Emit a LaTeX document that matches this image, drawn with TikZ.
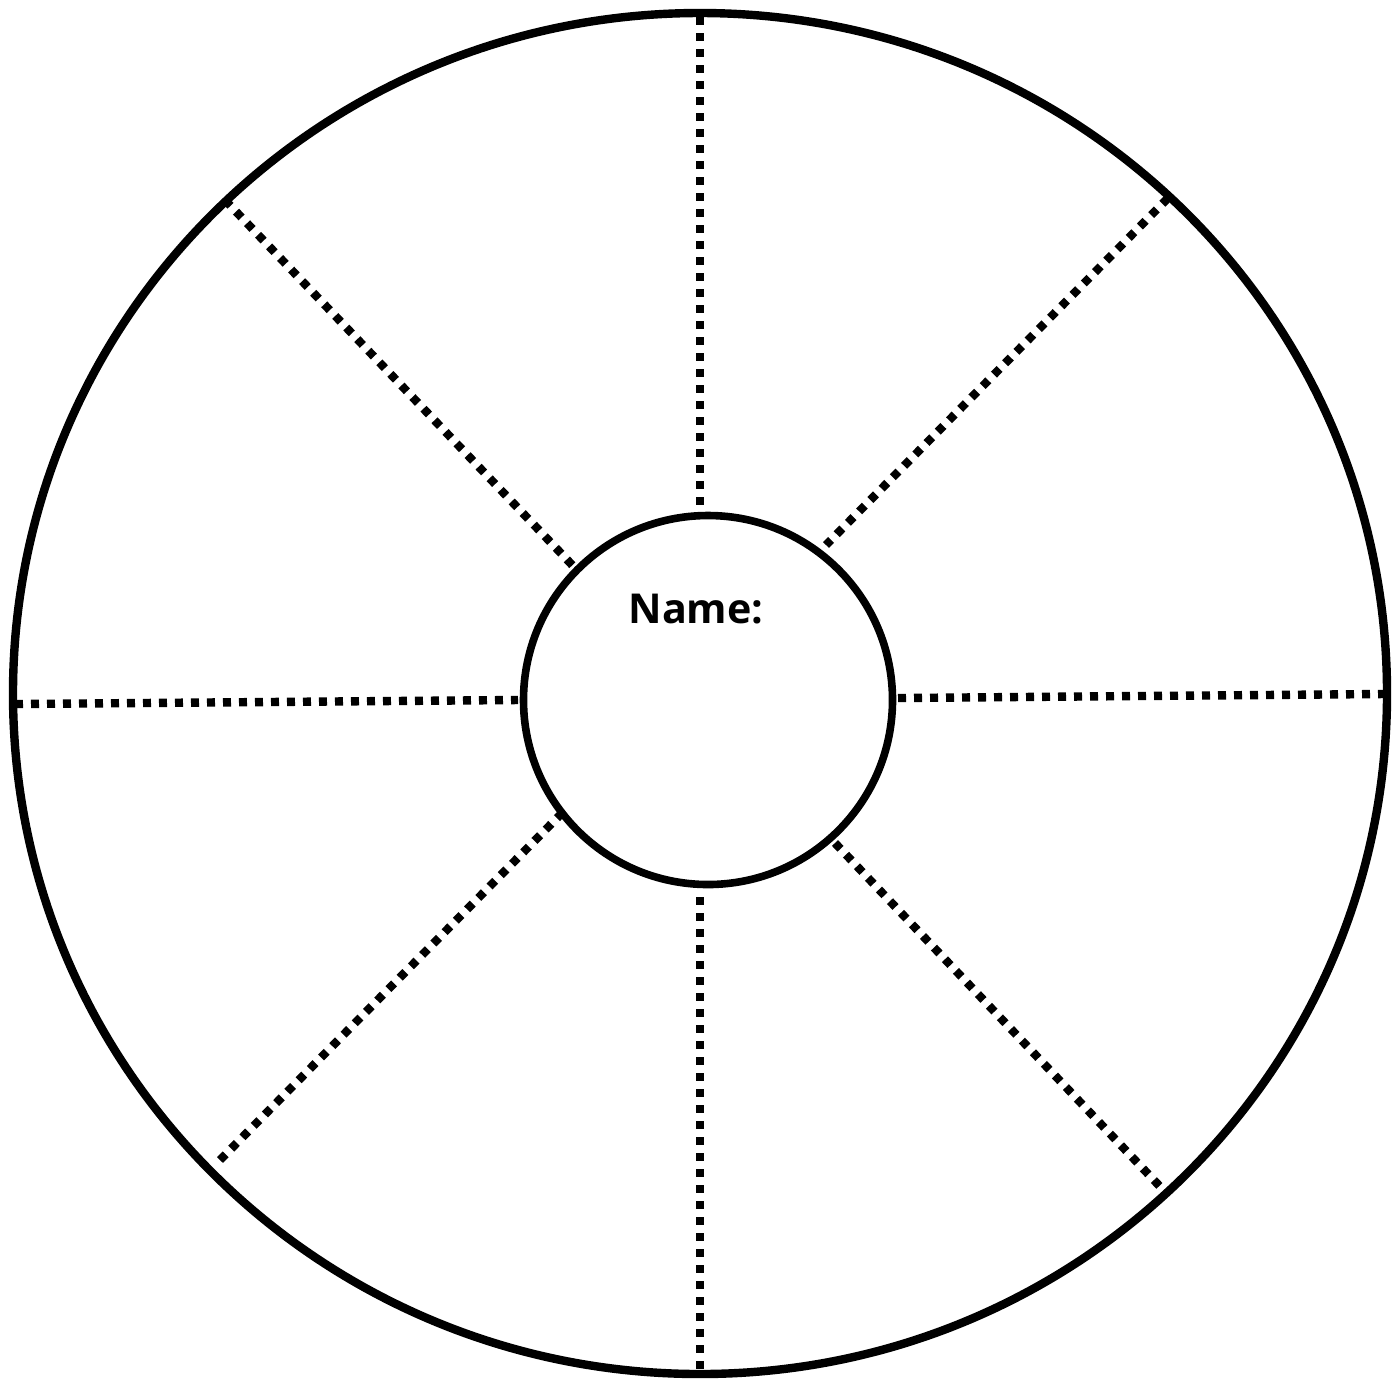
\documentclass[tikz,border=0pt]{standalone}
\usepackage{fontspec}
\setmainfont{Open Sans}
\usepackage{tikz}
\usetikzlibrary{
    positioning,
    calc
}

\begin{document}
\begin{tikzpicture}[
    x=0.5pt,
    y=-0.5pt,
    rim/.style={
        draw=black,
        line width=4.2pt
    },
    hub/.style={
        circle,
        draw=black,
        line width=3.8pt,
        minimum size=184.5pt,
        inner sep=0pt
    },
    spoke/.style={
        draw=black,
        line width=4.2pt,
        dash pattern=on 4pt off 4pt
    }
]

\useasboundingbox (0,0) rectangle (1400,1378);

% ============================================================
% OUTER RIM AND HUB
% ============================================================

\draw[rim]
    (700,693.5) ellipse [x radius=343.5pt, y radius=340.25pt];

\node[hub] (centre) at (708,700) {};

\node[font=\bfseries\fontsize{20.6}{23}\selectfont, anchor=base]
    (namelabel) at (696,623) {Name:};

% ============================================================
% SPOKE ENDS
% ============================================================

\coordinate (topO)  at (700,17);
\coordinate (topI)  at (700,507);
\coordinate (botI)  at (700,897);
\coordinate (botO)  at (700,1370);
\coordinate (lftO)  at (15,704);
\coordinate (lftI)  at (518,700);
\coordinate (rgtI)  at (898,698);
\coordinate (rgtO)  at (1384,694);
\coordinate (ulO)   at (225,200);
\coordinate (ulI)   at (575,568);
\coordinate (urO)   at (1168,198);
\coordinate (urI)   at (826,545);
\coordinate (llO)   at (220,1160);
\coordinate (llI)   at (560,815);
\coordinate (lrI)   at (835,843);
\coordinate (lrO)   at (1168,1195);

% ============================================================
% DOTTED SPOKES
% ============================================================

\draw[spoke] (topO) -- (topI);
\draw[spoke] (botI) -- (botO);
\draw[spoke] (lftO) -- (lftI);
\draw[spoke] (rgtI) -- (rgtO);
\draw[spoke] (ulO)  -- (ulI);
\draw[spoke] (urO)  -- (urI);
\draw[spoke] (llO)  -- (llI);
\draw[spoke] (lrI)  -- (lrO);

\end{tikzpicture}
\end{document}
